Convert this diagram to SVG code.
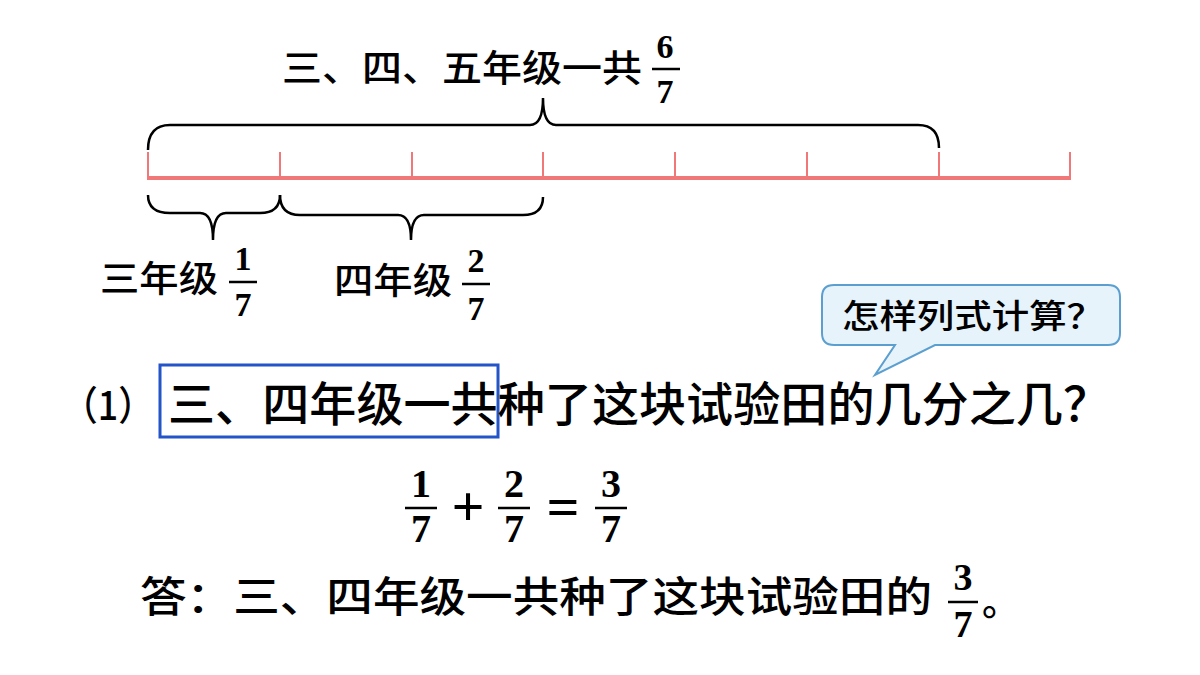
<svg xmlns="http://www.w3.org/2000/svg" width="1200" height="675" viewBox="0 0 1200 675">
<style>
.cj{font-family:"Noto Sans CJK SC","Noto Sans",sans-serif;fill:#000;font-weight:500}
.n{font-family:"Liberation Serif",serif;font-weight:bold;fill:#000;text-anchor:middle}
.br{fill:none;stroke:#000;stroke-width:2.5}
.tk{stroke:#f07878;stroke-width:2}
.bar{stroke:#f07878;stroke-width:4}
.fl{stroke:#000;stroke-width:2.5}
</style>
<rect width="1200" height="675" fill="#fff"/>
<g id="numberline">
<line class="bar" x1="147" y1="178" x2="1071" y2="178"/>
<g class="tk">
<line x1="148" y1="152" x2="148" y2="178"/><line x1="280" y1="152" x2="280" y2="178"/><line x1="412" y1="152" x2="412" y2="178"/><line x1="543" y1="152" x2="543" y2="178"/><line x1="675" y1="152" x2="675" y2="178"/><line x1="807" y1="152" x2="807" y2="178"/><line x1="939" y1="152" x2="939" y2="178"/><line x1="1070" y1="152" x2="1070" y2="178"/>
</g>
</g>
<g id="connectors">
<path class="br" d="M148,150 Q148,125 170,125 L530,125 Q543,125 543,98 Q543,125 556,125 L918,125 Q939,125 939,148"/>
<path class="br" d="M148,195 Q148,213 170,213 L200,213 Q213,213 213,240 Q213,213 226,213 L260,213 Q280,213 280,195"/>
<path class="br" d="M280,195 Q280,215 300,215 L398,215 Q411,215 411,240 Q411,215 424,215 L523,215 Q543,215 543,197"/>
</g>
<g id="top-label">
<text class="cj" x="282" y="82" font-size="37" textLength="360" lengthAdjust="spacingAndGlyphs">三、四、五年级一共</text>
<text class="n" x="665" y="58" font-size="34">6</text><line class="fl" x1="652" y1="69" x2="680" y2="69"/><text class="n" x="665" y="103" font-size="34">7</text>
</g>
<g id="grade3">
<text class="cj" x="100" y="292" font-size="36" textLength="118" lengthAdjust="spacingAndGlyphs">三年级</text>
<text class="n" x="243" y="270" font-size="34">1</text><line class="fl" x1="229" y1="282" x2="257" y2="282"/><text class="n" x="243" y="316" font-size="34">7</text>
</g>
<g id="grade4">
<text class="cj" x="334" y="294" font-size="36" textLength="118" lengthAdjust="spacingAndGlyphs">四年级</text>
<text class="n" x="476" y="272" font-size="34">2</text><line class="fl" x1="462" y1="284" x2="490" y2="284"/><text class="n" x="476" y="320" font-size="34">7</text>
</g>
<g id="callout">
<path d="M834,285 H1108 Q1120,285 1120,297 V333 Q1120,345 1108,345 H935 L875,375 L895,345 H834 Q822,345 822,333 V297 Q822,285 834,285 Z" fill="#e6f3fb" stroke="#5b9fd0" stroke-width="2"/>
<text class="cj" x="842" y="328" font-size="33" textLength="262" lengthAdjust="spacingAndGlyphs">怎样列式计算？</text>
</g>
<g id="question">
<text class="cj" x="62" y="420" font-size="40" font-weight="bold" textLength="92" lengthAdjust="spacingAndGlyphs">（1）</text>
<rect x="160" y="365" width="338" height="72" fill="none" stroke="#2354c8" stroke-width="3"/>
<text class="cj" x="168" y="421" font-size="47" font-weight="bold" textLength="942" lengthAdjust="spacingAndGlyphs">三、四年级一共种了这块试验田的几分之几？</text>
</g>
<g id="equation">
<text class="n" x="421" y="497" font-size="40">1</text><line class="fl" x1="405" y1="508" x2="437" y2="508"/><text class="n" x="421" y="542" font-size="40">7</text>
<text class="n" x="468" y="526" font-size="58" font-weight="normal">+</text>
<text class="n" x="514" y="497" font-size="40">2</text><line class="fl" x1="498" y1="508" x2="530" y2="508"/><text class="n" x="514" y="542" font-size="40">7</text>
<text class="n" x="563" y="526" font-size="58" font-weight="normal">=</text>
<text class="n" x="611" y="497" font-size="40">3</text><line class="fl" x1="595" y1="508" x2="627" y2="508"/><text class="n" x="611" y="542" font-size="40">7</text>
</g>
<g id="answer">
<text class="cj" x="140" y="612" font-size="42" textLength="792" lengthAdjust="spacingAndGlyphs">答：三、四年级一共种了这块试验田的</text>
<text class="n" x="963" y="590" font-size="38">3</text><line class="fl" x1="948" y1="602" x2="978" y2="602"/><text class="n" x="963" y="637" font-size="38">7</text>
<text class="cj" x="982" y="615" font-size="38">。</text>
</g>
</svg>
